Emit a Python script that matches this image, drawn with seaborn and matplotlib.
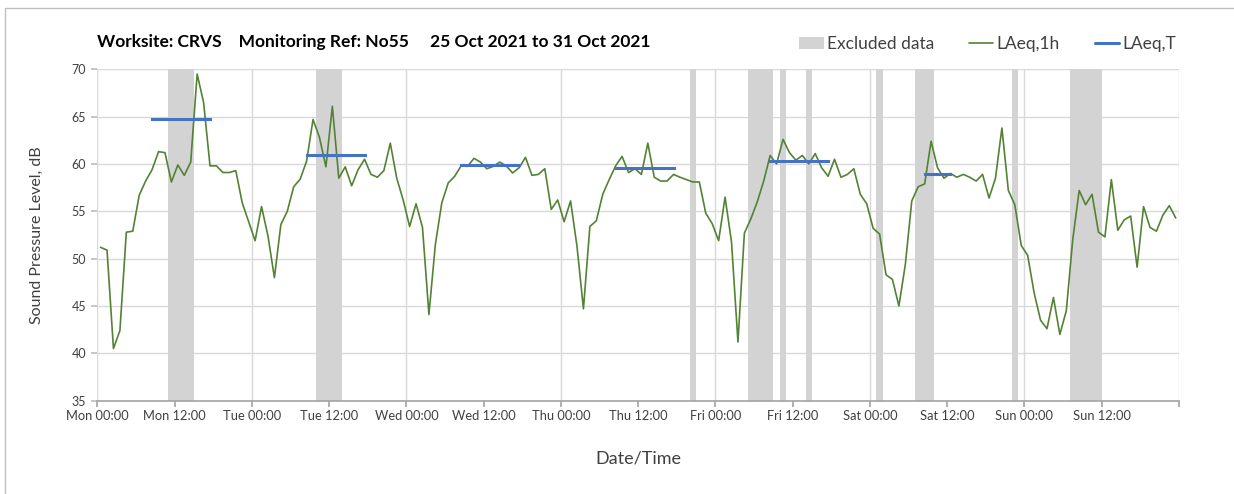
# Weekly noise monitoring chart - LAeq,1h with LAeq,T and excluded periods

import pandas as pd
import numpy as np
import seaborn as sns
import matplotlib.pyplot as plt
from matplotlib.patches import Patch, Rectangle
from matplotlib.lines import Line2D

# 1. DATA
title = "Worksite: CRVS    Monitoring Ref: No55     25 Oct 2021 to 31 Oct 2021"
day_names = ['Mon', 'Tue', 'Wed', 'Thu', 'Fri', 'Sat', 'Sun']

# hourly LAeq,1h values, Mon 00:00 -> Sun 23:00
laeq_1h = [
    51.2, 50.9, 40.5, 42.4, 52.8, 52.9, 56.7, 58.2, 59.4, 61.3, 61.2, 58.1, 59.9, 58.8,
    60.2, 69.5, 66.5, 59.8, 59.8, 59.1, 59.1, 59.3, 55.9, 53.9, 51.9, 55.5, 52.4, 48.0,
    53.6, 55.0, 57.6, 58.4, 60.3, 64.7, 62.8, 59.7, 66.1, 58.5, 59.7, 57.7, 59.4, 60.5,
    58.9, 58.6, 59.3, 62.2, 58.5, 56.2, 53.4, 55.8, 53.3, 44.1, 51.5, 55.9, 58.0, 58.7,
    59.8, 59.75, 60.6, 60.2, 59.5, 59.75, 60.2, 59.8, 59.05, 59.6, 60.7, 58.8, 58.9, 59.5,
    55.2, 56.2, 53.9, 56.1, 51.3, 44.7, 53.4, 54.0, 56.8, 58.35, 59.8, 60.8, 59.1, 59.5,
    58.9, 62.2, 58.6, 58.2, 58.2, 58.9, 58.6, 58.35, 58.1, 58.1, 54.8, 53.7, 51.9, 56.5,
    51.75, 41.2, 52.7, 54.2, 56.0, 58.2, 60.9, 60.0, 62.6, 61.2, 60.4, 60.9, 60.0, 61.1,
    59.6, 58.7, 60.5, 58.6, 58.9, 59.5, 56.8, 55.8, 53.2, 52.6, 48.3, 47.8, 45.0, 49.4,
    56.1, 57.6, 57.9, 62.4, 59.6, 58.5, 59.0, 58.6, 58.9, 58.6, 58.2, 58.9, 56.4, 58.5,
    63.8, 57.2, 55.7, 51.4, 50.35, 46.4, 43.5, 42.6, 45.9, 42.0, 44.5, 52.0, 57.2, 55.7,
    56.8, 52.8, 52.3, 58.35, 53.0, 54.1, 54.5, 49.1, 55.5, 53.3, 52.9, 54.6, 55.6, 54.3,
]

# excluded periods (start hour, end hour)
excl_start = [11, 34, 92, 101, 106, 110, 121, 127, 142, 151]
excl_end = [15, 38, 93, 105, 107, 111, 122, 130, 143, 156]

# LAeq,T working periods (start hour, end hour, level)
period_start = [8, 32, 56, 80, 104, 128]
period_end = [18, 42, 66, 90, 114, 133]
period_level = [64.7, 61.0, 59.9, 59.6, 60.3, 58.9]

# 2. TABLES FOR SEABORN
hourly = pd.DataFrame({'hour': np.arange(len(laeq_1h)) + 0.5, 'level': laeq_1h})

rows = []
for k, (s, e, lv) in enumerate(zip(period_start, period_end, period_level)):
    for h in range(s, e):
        rows.append({'period': k, 'hour': h + 0.5, 'level': lv})
periods = pd.DataFrame(rows)

tick_hours = np.arange(0, 169, 12)
tick_labels = [f"{day_names[h // 24]} {h % 24:02d}:00" if h < 168 else '' for h in tick_hours]

# 3. PLOT
sns.set_theme(style='white')
plt.rcParams['font.family'] = ['Lato', 'DejaVu Sans']

green = '#548235'
blue = '#4472C4'
band = '#d3d3d3'
grid = '#d9d9d9'
txt = '#404040'

fig = plt.figure(figsize=(12.34, 4.94), dpi=100)
ax = fig.add_axes([0.0789, 0.1889, 0.8765, 0.6708])

for s, e in zip(excl_start, excl_end):
    ax.axvspan(s, e, color=band, lw=0, zorder=1)

sns.lineplot(data=hourly, x='hour', y='level', ax=ax, color=green, lw=1.2, zorder=3)
sns.lineplot(data=periods, x='hour', y='level', units='period', estimator=None, ax=ax,
             color=blue, lw=2.2, zorder=4, solid_capstyle='projecting')

ax.set_xlim(0, 168)
ax.set_ylim(35, 70)
ax.set_yticks(np.arange(35, 71, 5))
ax.set_xticks(tick_hours)
ax.set_xticklabels(tick_labels)

for y in range(40, 71, 5):
    ax.axhline(y, color=grid, lw=1, zorder=0)
for x in range(0, 169, 24):
    ax.axvline(x, color=grid, lw=1, zorder=0)

for sp in ['top', 'right', 'left']:
    ax.spines[sp].set_visible(False)
ax.spines['bottom'].set_color('#a6a6a6')
ax.tick_params(axis='x', direction='out', length=4, color='#a6a6a6', labelsize=9.3,
               labelcolor=txt, pad=3, bottom=True)
ax.tick_params(axis='y', direction='out', length=4, color='#bfbfbf', labelsize=9,
               labelcolor=txt, pad=4, left=True)

ax.set_xlabel('Date/Time', fontsize=13, color=txt, labelpad=20)
ax.set_ylabel('Sound Pressure Level, dB', fontsize=11.5, color=txt, labelpad=20)

fig.text(97 / 1234, 1 - 42 / 494, title, fontsize=12.5, fontweight='bold', color='black',
         ha='left', va='center')

handles = [Patch(facecolor=band, edgecolor='none'),
           Line2D([], [], color=green, lw=1.2),
           Line2D([], [], color=blue, lw=2.2)]
fig.legend(handles, ['Excluded data', 'LAeq,1h', 'LAeq,T'], loc='center right',
           bbox_to_anchor=(1192 / 1234, 1 - 44 / 494), ncol=3, frameon=False,
           fontsize=12.5, labelcolor=txt, handlelength=1.4, handletextpad=0.2,
           columnspacing=2.0)

fig.patches.append(Rectangle((5 / 1234, -0.1), 1.2, 1.1 - 8 / 494, transform=fig.transFigure,
                             fill=False, edgecolor='#bfbfbf', lw=1))

plt.savefig('out.png', dpi=100)
